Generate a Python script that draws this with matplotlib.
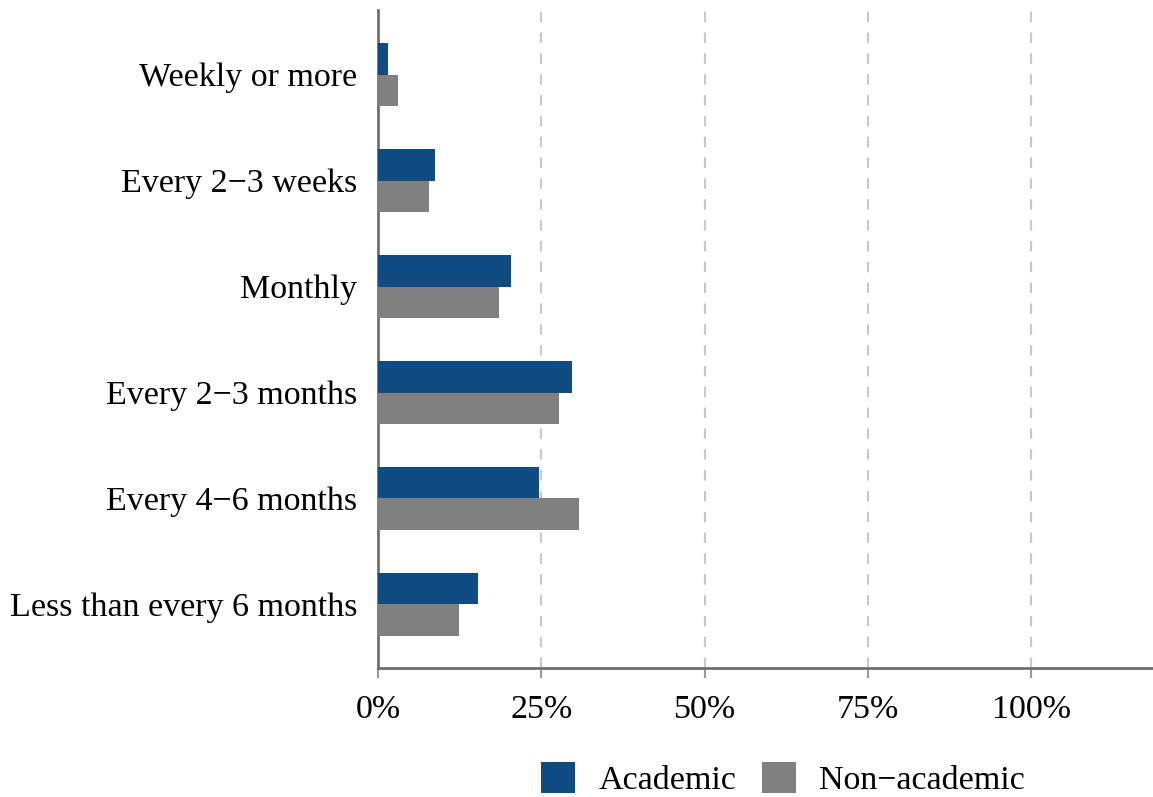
import numpy as np
import matplotlib.pyplot as plt
from matplotlib.ticker import FuncFormatter

plt.rcParams['font.family'] = ['Liberation Serif', 'DejaVu Serif']

categories = ["Weekly or more", "Every 2\u22123 weeks", "Monthly",
              "Every 2\u22123 months", "Every 4\u22126 months",
              "Less than every 6 months"]
academic = [1.5, 8.7, 20.4, 29.7, 24.6, 15.3]
non_academic = [3.1, 7.8, 18.5, 27.7, 30.8, 12.4]
xticks = [0, 25, 50, 75, 100]

blue = "#104c81"
grey = "#808080"
spine = "#707070"
fs = 24.5

fig = plt.figure(figsize=(11.53, 7.97), dpi=100)
ax = fig.add_axes([378 / 1153, 1 - 668 / 797, 1 - 378 / 1153, (668 - 10) / 797])

y = np.arange(len(categories))
h = 0.3
ax.barh(y - h / 2, academic, height=h, color=blue, label="Academic", zorder=3)
ax.barh(y + h / 2, non_academic, height=h, color=grey, label="Non\u2212academic", zorder=3)

ax.set_ylim(len(categories) - 0.4, -0.61)
ax.set_xlim(0, 118.6)
ax.set_yticks(y)
ax.set_yticklabels(categories, fontsize=fs)
ax.set_xticks(xticks)
ax.xaxis.set_major_formatter(FuncFormatter(lambda v, p: f"{v:.0f}%"))
ax.tick_params(axis='x', labelsize=fs, length=7, width=1.5, color="#999999", pad=12)
ax.tick_params(axis='y', length=0, pad=15)

ax.grid(axis='x', color="#c8c8c8", linestyle=(0, (5, 5)), linewidth=1.5, zorder=0)
for s in ['top', 'right']:
    ax.spines[s].set_visible(False)
for s in ['left', 'bottom']:
    ax.spines[s].set_color(spine)
    ax.spines[s].set_linewidth(2)

handles, labels = ax.get_legend_handles_labels()
fig.legend(handles, labels, loc='center left', bbox_to_anchor=(541 / 1153, 1 - 779 / 797),
           ncol=2, frameon=False, fontsize=fs, borderpad=0, borderaxespad=0,
           handlelength=1.0, handleheight=1.0, columnspacing=0.75, handletextpad=0.68)

fig.savefig("out.png", dpi=100)
